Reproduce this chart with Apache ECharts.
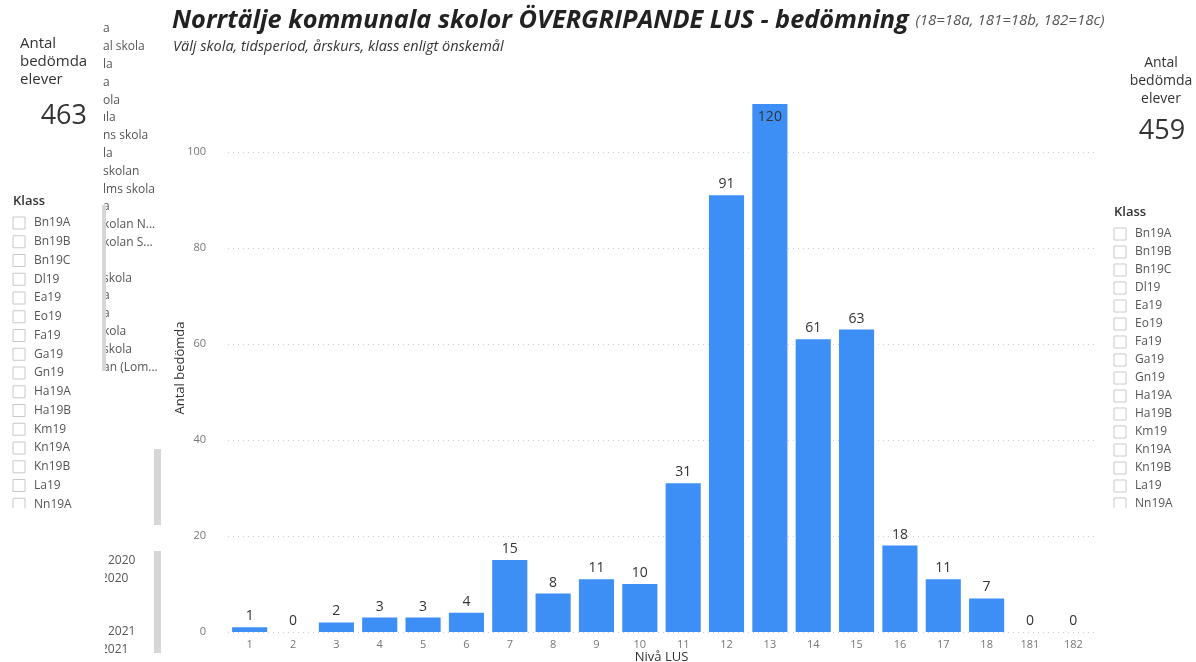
<!DOCTYPE html>
<html>
<head>
<meta charset="utf-8">
<style>
  html, body { margin: 0; padding: 0; background: #fff; }
  #main { width: 1196px; height: 662px; }
</style>
<script src="https://cdn.jsdelivr.net/npm/echarts@6/dist/echarts.min.js"></script>
</head>
<body>
<div id="main"></div>
<script>
var chartDom = document.getElementById("main");
var myChart = echarts.init(chartDom);
var option;

// data
var levels = ["1", "2", "3", "4", "5", "6", "7", "8", "9", "10", "11", "12", "13", "14", "15", "16", "17", "18", "181", "182"];
var counts = [1, 0, 2, 3, 3, 4, 15, 8, 11, 10, 31, 91, 120, 61, 63, 18, 11, 7, 0, 0];
var yMax = 110;

var klasser = ["Bn19A", "Bn19B", "Bn19C", "Dl19", "Ea19", "Eo19", "Fa19", "Ga19", "Gn19", "Ha19A", "Ha19B", "Km19", "Kn19A", "Kn19B", "La19", "Nn19A"];
var skolor = ["a", "al skola", "la", "a", "ola", "ıla", "ns skola", "la", "skolan", "lms skola", "a", "kolan N...", "kolan S...", "", "skola", "a", "a", "kola", "skola", "an (Lom..."];

var font = "Open Sans";
var graphics = [];

function txt(x, y, s, size, color, extra) {
  var st = { text: s, x: x, y: y, fontSize: size, fill: color, fontFamily: font, textVerticalAlign: "middle" };
  if (extra) Object.keys(extra).forEach(function (k) { st[k] = extra[k]; });
  graphics.push({ type: "text", style: st });
}

function klassList(x, y0, step) {
  txt(x, y0 - 22, "Klass", 13, "#333", { fontWeight: 600 });
  klasser.forEach(function (k, i) {
    var y = y0 + i * step;
    if (i === klasser.length - 1) {
      // last item is cut off by the slicer box
      graphics.push({ type: "group", clipPath: { type: "rect", shape: { x: x - 2, y: y - 12, width: 90, height: 16 } },
        children: [
          { type: "rect", shape: { x: x, y: y - 6, width: 12, height: 12 }, style: { fill: "#fff", stroke: "#c8c8c8", lineWidth: 1 } },
          { type: "text", style: { text: k, x: x + 21, y: y, fontSize: 12, fill: "#555", fontFamily: font, textVerticalAlign: "middle" } }
        ] });
      return;
    }
    graphics.push({ type: "rect", shape: { x: x, y: y - 6, width: 12, height: 12 }, style: { fill: "#fff", stroke: "#c8c8c8", lineWidth: 1 } });
    txt(x + 21, y, k, 12, "#555");
  });
}

// left panel
txt(20, 44, "Antal", 15, "#333");
txt(20, 62, "bedömda", 15, "#333");
txt(20, 80, "elever", 15, "#333");
txt(87, 116, "463", 27, "#333", { textAlign: "right" });
skolor.forEach(function (s, i) {
  txt(103, 29 + i * 17.8, s, 12, "#555");
});
graphics.push({ type: "rect", shape: { x: 102, y: 205, width: 4, height: 166 }, style: { fill: "#d6d6d6" } });
klassList(13, 223, 18.75);
txt(108, 561, "2020", 12, "#555");
graphics.push({ type: "group", clipPath: { type: "rect", shape: { x: 105, y: 560, width: 40, height: 100 } },
  children: [
    { type: "text", style: { text: "2020", x: 101, y: 579, fontSize: 12, fill: "#555", fontFamily: font, textVerticalAlign: "middle" } },
    { type: "text", style: { text: "2021", x: 101, y: 650, fontSize: 12, fill: "#555", fontFamily: font, textVerticalAlign: "middle" } }
  ] });
txt(108, 632, "2021", 12, "#555");
graphics.push({ type: "rect", shape: { x: 154, y: 449, width: 7, height: 76 }, style: { fill: "#d6d6d6" } });
graphics.push({ type: "rect", shape: { x: 154, y: 551, width: 7, height: 102 }, style: { fill: "#d6d6d6" } });

// right panel
txt(1161, 63, "Antal", 14, "#333", { textAlign: "center" });
txt(1161, 81, "bedömda", 14, "#333", { textAlign: "center" });
txt(1161, 99, "elever", 14, "#333", { textAlign: "center" });
txt(1162, 131, "459", 27, "#333", { textAlign: "center" });
klassList(1114, 234, 18);

// title
graphics.push({
  type: "text",
  style: {
    text: "{a|Norrtälje kommunala skolor ÖVERGRIPANDE LUS - bedömning}  {b|(18=18a, 181=18b, 182=18c)}",
    x: 172, y: 21, textVerticalAlign: "middle",
    rich: {
      a: { fontSize: 25.3, fontWeight: "bold", fontStyle: "italic", fill: "#222", fontFamily: font },
      b: { fontSize: 15, fontStyle: "italic", fill: "#555", fontFamily: font }
    }
  }
});
txt(173, 47, "Välj skola, tidsperiod, årskurs, klass enligt önskemål", 14.5, "#333", { fontStyle: "italic" });

option = {
  animation: false,
  textStyle: { fontFamily: font },
  grid: { left: 228, right: 101, top: 104, bottom: 30, outerBoundsMode: "none", containLabel: false },
  xAxis: {
    type: "category",
    data: levels,
    name: "Nivå LUS",
    nameLocation: "middle",
    nameGap: 19,
    nameMoveOverlap: false,
    nameTextStyle: { color: "#333", fontSize: 13 },
    axisLine: { show: false },
    axisTick: { show: false },
    axisLabel: { color: "#777", fontSize: 11, margin: 7 }
  },
  yAxis: {
    type: "value",
    min: 0,
    max: yMax,
    interval: 20,
    name: "Antal bedömda",
    nameLocation: "middle",
    nameGap: 41,
    nameMoveOverlap: false,
    nameTextStyle: { color: "#333", fontSize: 13 },
    axisLabel: {
      color: "#777", fontSize: 11, margin: 22,
      formatter: function (v) { return v > 100 ? "" : v; }
    },
    splitLine: { show: true, showMaxLine: false, lineStyle: { color: "#ccc", type: [1, 4] } }
  },
  series: [
    {
      type: "bar",
      barCategoryGap: "19%",
      clip: true,
      itemStyle: { color: "#3d8ef5" },
      label: { show: true, position: "top", color: "#333", fontSize: 14, distance: 4 },
      data: counts.map(function (v) {
        return v > yMax ? { value: v, label: { position: "insideTop", distance: 6 } } : v;
      })
    }
  ],
  graphic: graphics
};

option && myChart.setOption(option);
</script>
</body>
</html>
